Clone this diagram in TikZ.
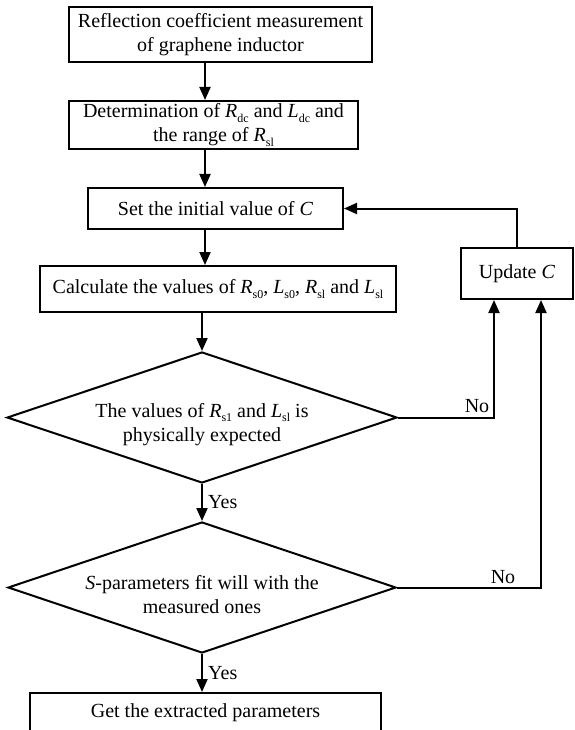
\documentclass[tikz,border=0pt]{standalone}
\usepackage{fontspec}
\setmainfont{Liberation Serif}
\usetikzlibrary{arrows.meta,shapes.geometric,calc}
\newcommand{\qsub}[2]{\textit{#1}\raisebox{-0.22em}{\fontsize{12}{12}\selectfont #2}}
\begin{document}
\begin{tikzpicture}[x=1pt,y=-1pt,
  box/.style={draw,line width=2pt,align=center,inner sep=0pt,font=\fontsize{20}{24}\selectfont},
  dia/.style={draw,diamond,aspect=2.92,line width=2pt,inner sep=0pt},
  txt/.style={align=center,inner sep=0pt,font=\fontsize{20}{24}\selectfont},
  arr/.style={line width=2pt,-{Triangle[length=13pt,width=11pt]}},
  lbl/.style={inner sep=0pt,font=\fontsize{20}{24}\selectfont}]
\useasboundingbox (0,0) rectangle (574,730);
\clip (0,0) rectangle (574,730);
\fill[white] (0,0) rectangle (574,730);
\coordinate (ax) at (205,0);
\node[box,minimum width=303pt,minimum height=55pt] (b1) at (220.5,34.5) {Reflection coefficient measurement\\of graphene inductor};
\node[box,minimum width=289pt,minimum height=48pt] (b2) at (213.5,125) {Determination of \qsub{R}{dc} and \qsub{L}{dc} and\\the range of \qsub{R}{sl}};
\node[box,minimum width=255pt,minimum height=41pt] (b3) at (215.5,208.5) {Set the initial value of \textit{C}};
\node[box,minimum width=356pt,minimum height=46pt] (b4) at (218,289) {Calculate the values of \qsub{R}{s0}, \qsub{L}{s0}, \qsub{R}{sl} and \qsub{L}{sl}};
\node[box,minimum width=112pt,minimum height=51pt] (up) at (517,273.5) {Update \textit{C}};
\node[dia,minimum width=390pt,minimum height=131pt] (d1) at (202,417.5) {};
\node[txt] (t1) at ([yshift=-7pt]d1.center) {The values of \qsub{R}{s1} and \qsub{L}{sl} is\\physically expected};
\node[dia,minimum width=388pt,minimum height=131pt] (d2) at (202,587.5) {};
\node[txt] (t2) at ([yshift=-7pt]d2.center) {\textit{S}-parameters fit will with the\\measured ones};
\node[box,minimum width=351pt,minimum height=52pt,text height=14pt,text depth=18pt] (b5) at (205.5,719) {Get the extracted parameters};
\draw[arr] (b1.south -| ax) -- (b2.north -| ax);
\draw[arr] (b2.south -| ax) -- (b3.north -| ax);
\draw[arr] (b3.south -| ax) -- (b4.north -| ax);
\draw[arr] (b4.south -| d1.north) -- (d1.north);
\draw[arr] (d1.south) -- (d2.north);
\draw[arr] (d2.south) -- (b5.north -| d2.south);
\draw[arr] (up.north) |- (b3.east);
\draw[arr] (d1.east) -| ([xshift=-23pt]up.south);
\draw[arr] (d2.east) -| ([xshift=24pt]up.south);
\node[lbl] (no1) at (477,406) {No};
\node[lbl] (no2) at (503,577) {No};
\node[lbl,anchor=west] (yes1) at (208,502) {Yes};
\node[lbl,anchor=west] (yes2) at (208,673) {Yes};
\end{tikzpicture}
\end{document}
